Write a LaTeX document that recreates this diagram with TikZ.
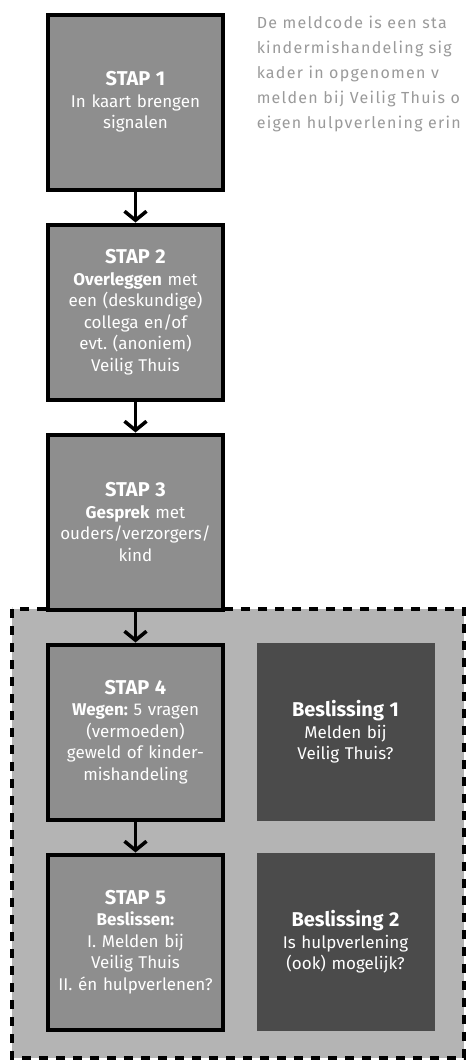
\documentclass[tikz,border=0pt]{standalone}
\usepackage{fontspec}
\setmainfont{Fira Sans}
\newfontfamily\parafont[LetterSpace=8]{Fira Sans}
\usetikzlibrary{arrows.meta,positioning,backgrounds}
\frenchspacing

\definecolor{stepgray}{HTML}{8E8E8E}
\definecolor{decgray}{HTML}{4B4B4B}
\definecolor{groupgray}{HTML}{B4B4B4}
\definecolor{paragray}{HTML}{9A9A9A}

\newcommand{\staptitle}[1]{{\fontsize{20}{22}\selectfont\bfseries #1}}

\begin{document}
\begin{tikzpicture}[x=1pt, y=-1pt, >={Straight Barb[length=9pt, width=22pt]}, line width=3.5pt]
	\tikzstyle{stap} = [rectangle, draw = black, line width = 4pt, fill = stepgray, minimum size = 175pt, inner sep = 0pt, text width = 175pt, align = center, text = white, font = \fontsize{17}{21.5}\selectfont]
	\tikzstyle{besl} = [rectangle, fill = decgray, minimum size = 178pt, inner sep = 0pt, text width = 178pt, align = center, text = white, font = \fontsize{17}{21.5}\selectfont]
	\tikzstyle{para} = [anchor = base west, inner sep = 0pt, text = paragray, font = \parafont\fontsize{16}{17}\selectfont]
	\useasboundingbox (0,0) rectangle (466,1060);
	\begin{scope}[node distance = 210pt]
	    \node [stap] (S1) at (135.5,102) {\staptitle{STAP 1}\\In kaart brengen\\signalen};
	    \node [stap] (S2) [below of = S1] {\staptitle{STAP 2}\\\textbf{Overleggen} met\\een (deskundige)\\collega en/of\\evt. (anoniem)\\Veilig Thuis};
	    \node [stap] (S3) [below of = S2] {\staptitle{STAP 3}\\\textbf{Gesprek} met\\ouders/verzorgers/\\kind};
	    \node [stap] (S4) [below of = S3] {\staptitle{STAP 4}\\\textbf{Wegen:} 5 vragen\\(vermoeden)\\geweld of kinder-\\mishandeling};
	    \node [stap] (S5) [below of = S4] {\staptitle{STAP 5}\\\textbf{Beslissen:}\\I. Melden bij\\Veilig Thuis\\II. én hulpverlenen?};
	    \node [besl] (B1) [right of = S4] {\staptitle{Beslissing 1}\\Melden bij\\Veilig Thuis?};
	    \node [besl] (B2) [right of = S5] {\staptitle{Beslissing 2}\\Is hulpverlening\\(ook) mogelijk?};
	    \begin{scope}[on background layer]
	      \fill [white] (0,0) rectangle (466,1060);
	      \draw [fill = groupgray, line width = 4pt, dash pattern = on 9pt off 8pt] (12,609) rectangle (464,1058);
	    \end{scope}
	    \draw [->] (S1) -- (S2);
	    \draw [->] (S2) -- (S3);
	    \draw [->] (S3) -- (S4);
	    \draw [->] (S4) -- (S5);
	    % tekst rechtsboven
	    \node [para] (P1) at (255,28) {De meldcode is een sta};
	    \node [para] (P2) at (255,53) {kindermishandeling sig};
	    \node [para] (P3) at (255,78) {kader in opgenomen v};
	    \node [para] (P4) at (255,103) {melden bij Veilig Thuis o};
	    \node [para] (P5) at (255,128) {eigen hulpverlening erin};
	\end{scope}
\end{tikzpicture}
\end{document}
